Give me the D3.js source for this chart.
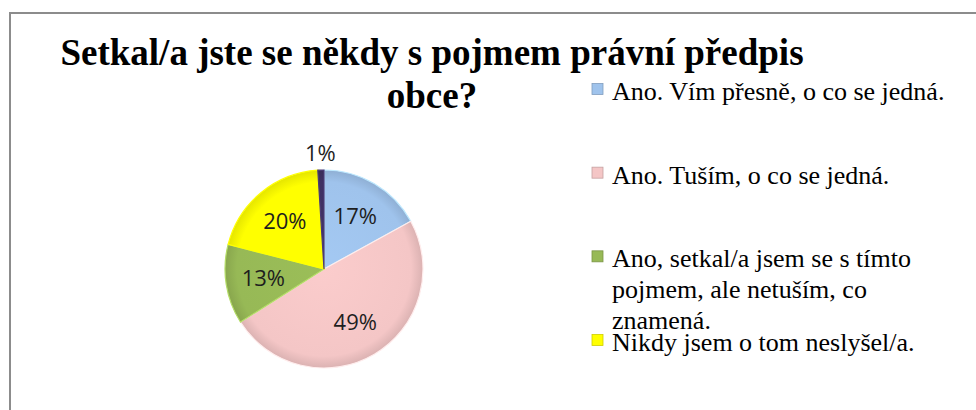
<!DOCTYPE html>
<html>
<head>
<meta charset="utf-8">
<script src="https://cdn.jsdelivr.net/npm/d3@7"></script>
<style>
	body { margin: 0; background: #fff; }
	svg { display: block; }
	.serif { font-family: "Liberation Serif", "DejaVu Serif", serif; font-style: normal; font-weight: 400; }
	.title { font-family: "Liberation Serif", "Times New Roman", serif; font-weight: 700; }
</style>
</head>
<body>
<div id="chart"></div>
<script>
// data
var categories = [
	"Ano. Vím přesně, o co se jedná.",
	"Ano. Tuším, o co se jedná.",
	"Ano, setkal/a jsem se s tímto pojmem, ale netuším, co znamená.",
	"Nikdy jsem o tom neslyšel/a.",
	"(jiné)"
];
var values = [17, 49, 13, 20, 1];
var legendLines = [
	["Ano. Vím přesně, o co se jedná."],
	["Ano. Tuším, o co se jedná."],
	["Ano, setkal/a jsem se s tímto", "pojmem, ale netuším, co", "znamená."],
	["Nikdy jsem o tom neslyšel/a."]
];
var titleLines = ["Setkal/a jste se někdy s pojmem právní předpis", "obce?"];
var colors = ["#9fc3ec", "#f4c6c6", "#97b956", "#ffff00", "#3f3163"];

var width = 976, height = 410;

var svg = d3.select("#chart")
	.append("svg")
	.attr("width", width)
	.attr("height", height);

var defs = svg.append("defs");

// chart frame (runs off the right and bottom edge)
svg.append("path")
	.attr("d", "M10," + (height + 5) + "V13H" + (width + 5))
	.attr("fill", "none")
	.attr("stroke", "#8c8c8c")
	.attr("stroke-width", 2);

// title
svg.append("g")
	.selectAll("text")
	.data(titleLines)
	.enter()
	.append("text")
	.attr("class", "title")
	.attr("x", 432)
	.attr("y", function (d, i) { return 65 + i * 43; })
	.attr("text-anchor", "middle")
	.style("font-size", "37px")
	.text(function (d) { return d; });

// pie
var cx = 324, cy = 269, r = 99;

// gradients live in the pie group's own coordinates (centre at 0,0)
colors.forEach(function (c, i) {
	var g = defs.append("radialGradient")
		.attr("id", "grad" + i)
		.attr("gradientUnits", "userSpaceOnUse")
		.attr("cx", 0).attr("cy", 0).attr("r", r);
	g.append("stop").attr("offset", "0%").attr("stop-color", d3.color(c).brighter(0.08));
	g.append("stop").attr("offset", "88%").attr("stop-color", c);
	g.append("stop").attr("offset", "100%").attr("stop-color", d3.color(c).darker(0.3));
});

var pie = d3.pie().sort(null).value(function (d) { return d; });
var arcs = pie(values);
var arc = d3.arc().innerRadius(0).outerRadius(r);
var labelArc = d3.arc().innerRadius(r * 0.62).outerRadius(r * 0.62);
var outerArc = d3.arc().innerRadius(r * 1.17).outerRadius(r * 1.17);

var pieG = svg.append("g").attr("transform", "translate(" + cx + "," + cy + ")");

pieG.selectAll("path")
	.data(arcs)
	.enter()
	.append("path")
	.attr("d", arc)
	.attr("fill", function (d, i) { return "url(#grad" + i + ")"; })
	.attr("stroke", function (d, i) { return d3.color(colors[i]).brighter(0.5); })
	.attr("stroke-width", 1.2);

pieG.selectAll("text")
	.data(arcs)
	.enter()
	.append("text")
	.attr("transform", function (d) {
		var p = d.value < 5 ? outerArc.centroid(d) : labelArc.centroid(d);
		return "translate(" + p + ")";
	})
	.attr("text-anchor", "middle")
	.attr("dy", "0.35em")
	.style("font-family", "'Open Sans', 'Liberation Sans', sans-serif")
	.style("font-size", "22px")
	.style("fill", "#1e1e1e")
	.text(function (d) { return d.value + "%"; });

// legend
var ly = d3.scalePoint()
	.domain(d3.range(legendLines.length))
	.range([89, 340]);

var legend = svg.append("g")
	.selectAll("g")
	.data(legendLines)
	.enter()
	.append("g")
	.attr("transform", function (d, i) { return "translate(592," + ly(i) + ")"; });

legend.append("rect")
	.attr("x", 0)
	.attr("y", -5.5)
	.attr("width", 11)
	.attr("height", 11)
	.attr("fill", function (d, i) { return colors[i]; })
	.attr("stroke", function (d, i) { return d3.color(colors[i]).darker(0.6); })
	.attr("stroke-width", 0.8);

legend.each(function (lines) {
	var g = d3.select(this);
	lines.forEach(function (line, j) {
		g.append("text")
			.attr("class", "serif")
			.attr("x", 20)
			.attr("y", 11 + j * 31)
			.style("font-size", "26px")
			.style("fill", "#000")
			.text(line);
	});
});
</script>
</body>
</html>
